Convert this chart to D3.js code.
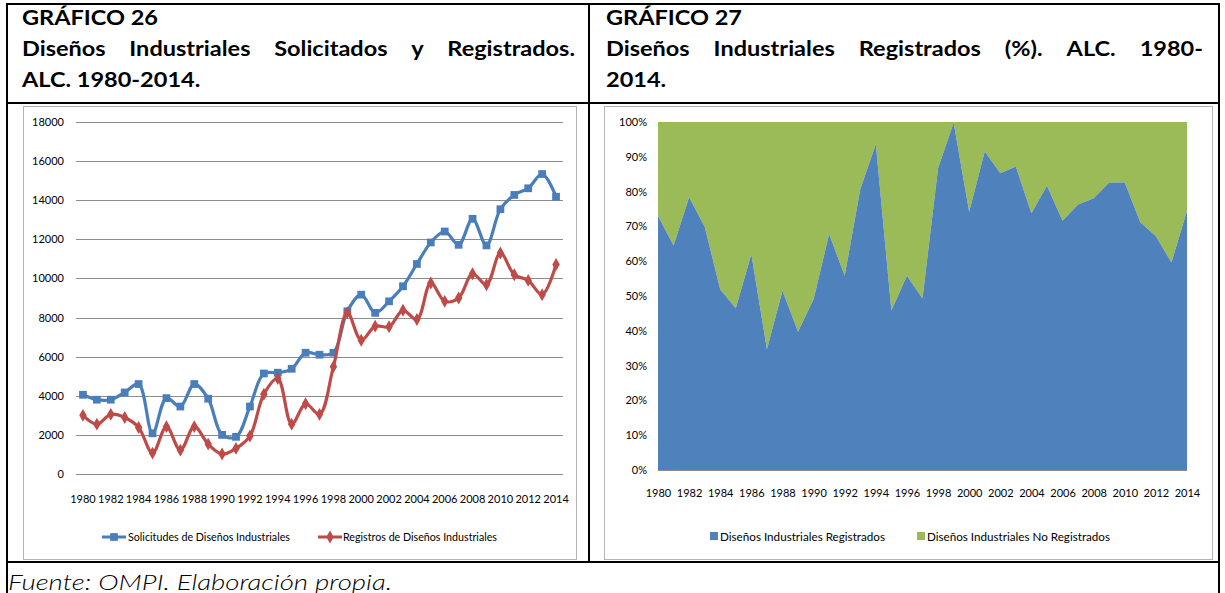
<!DOCTYPE html>
<html>
<head>
<meta charset="utf-8">
<script src="https://cdn.jsdelivr.net/npm/d3@7"></script>
<style>
  body { margin: 0; background: #fff; }
  svg { display: block; }
  text { font-family: Lato, "Open Sans", sans-serif; }
</style>
</head>
<body>
<svg id="page" width="1225" height="593"></svg>
<script>
// Categories and values
const years = [1980, 1981, 1982, 1983, 1984, 1985, 1986, 1987, 1988, 1989,
               1990, 1991, 1992, 1993, 1994, 1995, 1996, 1997, 1998, 1999,
               2000, 2001, 2002, 2003, 2004, 2005, 2006, 2007, 2008, 2009,
               2010, 2011, 2012, 2013, 2014];

const solicitudes = [4050, 3800, 3800, 4170, 4600, 2080, 3880, 3450, 4600, 3850,
                     2000, 1900, 3450, 5140, 5180, 5380, 6200, 6100, 6200, 8320,
                     9170, 8240, 8830, 9600, 10740, 11840, 12400, 11720, 13050, 11690,
                     13540, 14270, 14610, 15340, 14180];

const registros = [3000, 2550, 3050, 2890, 2380, 1070, 2420, 1220, 2420, 1530,
                   1020, 1310, 1940, 4080, 4880, 2550, 3590, 3050, 5490, 8250,
                   6840, 7560, 7530, 8370, 7900, 9770, 8830, 9000, 10240, 9680,
                   11300, 10190, 9900, 9170, 10710];

// share of registered designs (%), the rest is "No Registrados"
const pctRegistrados = [73.0, 64.5, 78.4, 69.9, 51.9, 46.5, 62.0, 34.7, 51.5, 39.7,
                        49.1, 67.8, 55.8, 80.7, 93.6, 45.8, 55.8, 49.3, 86.7, 99.8,
                        74.2, 91.5, 85.3, 87.2, 73.8, 81.7, 71.6, 76.3, 78.1, 82.6,
                        82.6, 71.2, 67.2, 59.6, 74.5];

const countTicks = [0, 2000, 4000, 6000, 8000, 10000, 12000, 14000, 16000, 18000];
const pctTicks = [0, 10, 20, 30, 40, 50, 60, 70, 80, 90, 100];
const yearLabels = [1980, 1982, 1984, 1986, 1988, 1990, 1992, 1994, 1996, 1998,
                    2000, 2002, 2004, 2006, 2008, 2010, 2012, 2014];

const seriesNames = ['Solicitudes de Diseños Industriales', 'Registros de Diseños Industriales'];
const areaNames = ['Diseños Industriales Registrados', 'Diseños Industriales No Registrados'];

const svg = d3.select('#page');

// ---------- table frame ----------
const frame = svg.append('g').attr('stroke', '#000').attr('stroke-width', 2);
frame.append('line').attr('x1', 6).attr('x2', 1220).attr('y1', 4).attr('y2', 4);
frame.append('line').attr('x1', 7).attr('x2', 7).attr('y1', 3).attr('y2', 593);
frame.append('line').attr('x1', 1219).attr('x2', 1219).attr('y1', 3).attr('y2', 593);
frame.append('line').attr('x1', 589).attr('x2', 589).attr('y1', 4).attr('y2', 562);
frame.append('line').attr('x1', 6).attr('x2', 1220).attr('y1', 103).attr('y2', 103);
frame.append('line').attr('x1', 6).attr('x2', 1220).attr('y1', 562).attr('y2', 562);

// ---------- titles (justified like the Word table) ----------
const titleFont = { size: 20, weight: 700 };

function measure(str) {
  const t = svg.append('text')
    .attr('font-size', titleFont.size)
    .attr('font-weight', titleFont.weight)
    .text(str);
  const w = t.node().getComputedTextLength();
  t.remove();
  return w;
}

// horizontal stretch so that "GRÁFICO 26" spans what it does in the picture
const sx = 136 / measure('GRÁFICO 26');
const spaceW = measure('a a') - measure('aa');

function titleLine(words, x0, y, x1) {
  const widths = words.map(w => measure(w) * sx);
  const total = d3.sum(widths);
  const gap = x1 ? (x1 - x0 - total) / (words.length - 1) : spaceW * sx;
  let x = x0;
  words.forEach((w, i) => {
    svg.append('text')
      .attr('x', x).attr('y', y)
      .attr('font-size', titleFont.size)
      .attr('font-weight', titleFont.weight)
      .attr('textLength', widths[i])
      .attr('lengthAdjust', 'spacingAndGlyphs')
      .attr('fill', '#000')
      .text(w);
    x += widths[i] + gap;
  });
}

titleLine(['GRÁFICO', '26'], 22, 25);
titleLine(['Diseños', 'Industriales', 'Solicitados', 'y', 'Registrados.'], 22, 56, 575);
titleLine(['ALC.', '1980-2014.'], 22, 86.5);

titleLine(['GRÁFICO', '27'], 606, 25);
titleLine(['Diseños', 'Industriales', 'Registrados', '(%).', 'ALC.', '1980-'], 606, 56, 1203);
titleLine(['2014.'], 606, 86.5);

// footer
svg.append('text')
  .attr('x', 8).attr('y', 590)
  .attr('font-size', 21)
  .attr('font-style', 'italic')
  .attr('font-weight', 300)
  .attr('textLength', 384)
  .attr('lengthAdjust', 'spacingAndGlyphs')
  .text('Fuente: OMPI. Elaboración propia.');

// ---------- chart boxes ----------
svg.append('rect').attr('x', 23.5).attr('y', 106.5).attr('width', 553).attr('height', 453)
  .attr('fill', '#fff').attr('stroke', '#b4b4b4');
svg.append('rect').attr('x', 604.5).attr('y', 106.5).attr('width', 608).attr('height', 453)
  .attr('fill', '#fff').attr('stroke', '#b4b4b4');

// ---------- GRÁFICO 26: line chart ----------
const x1 = d3.scaleBand().domain(years).range([76, 563]);
const y1 = d3.scaleLinear().domain([0, 18000]).range([474, 122]);
const cx = d => x1(d) + x1.bandwidth() / 2;

const g1 = svg.append('g');

g1.append('g')
  .selectAll('line')
  .data(countTicks)
  .join('line')
  .attr('x1', 76).attr('x2', 563)
  .attr('y1', d => Math.round(y1(d)) + 0.5)
  .attr('y2', d => Math.round(y1(d)) + 0.5)
  .attr('stroke', '#8c8c8c')
  .attr('stroke-width', 1);

const yAxis1 = g1.append('g')
  .attr('transform', 'translate(64,0)')
  .call(d3.axisLeft(y1).tickValues(countTicks).tickSize(0).tickPadding(0).tickFormat(d3.format('d')));
yAxis1.select('.domain').remove();
yAxis1.selectAll('text').attr('font-size', 11).attr('font-family', 'Lato, sans-serif').attr('fill', '#000');

const xAxis1 = g1.append('g')
  .attr('transform', 'translate(0,474)')
  .call(d3.axisBottom(x1).tickValues(yearLabels).tickSize(0).tickPadding(21));
xAxis1.select('.domain').remove();
xAxis1.selectAll('text').attr('font-size', 11).attr('font-family', 'Lato, sans-serif').attr('fill', '#000');

const series = [
  { name: seriesNames[0], values: solicitudes, color: '#4A7EBB', marker: d3.symbolSquare, msize: 60 },
  { name: seriesNames[1], values: registros, color: '#BE4B48', marker: d3.symbolDiamond, msize: 48 }
];

const line1 = d3.line()
  .x((d, i) => cx(years[i]))
  .y(d => y1(d))
  .curve(d3.curveCatmullRom.alpha(0.5));

series.forEach(s => {
  g1.append('path')
    .datum(s.values)
    .attr('d', line1)
    .attr('fill', 'none')
    .attr('stroke', s.color)
    .attr('stroke-width', 3.2)
    .attr('stroke-linejoin', 'round');
  g1.append('g')
    .selectAll('path')
    .data(s.values)
    .join('path')
    .attr('transform', (d, i) => `translate(${cx(years[i])},${y1(d)})`)
    .attr('d', d3.symbol().type(s.marker).size(s.msize))
    .attr('fill', s.color);
});

// legend
const legend1 = [
  { x: 102, textX: 128, len: 162 },
  { x: 318, textX: 343, len: 154 }
];
series.forEach((s, i) => {
  const L = legend1[i];
  const lg = g1.append('g');
  lg.append('line')
    .attr('x1', L.x).attr('x2', L.x + 24).attr('y1', 537).attr('y2', 537)
    .attr('stroke', s.color).attr('stroke-width', 3);
  lg.append('path')
    .attr('transform', `translate(${L.x + 12},537)`)
    .attr('d', d3.symbol().type(s.marker).size(s.msize))
    .attr('fill', s.color);
  lg.append('text')
    .attr('x', L.textX).attr('y', 541)
    .attr('font-size', 11)
    .attr('textLength', L.len)
    .attr('lengthAdjust', 'spacingAndGlyphs')
    .text(s.name);
});

// ---------- GRÁFICO 27: 100% stacked area ----------
const x2 = d3.scalePoint().domain(years).range([658, 1187]);
const y2 = d3.scaleLinear().domain([0, 100]).range([470, 122]);
const g2 = svg.append('g');

const areaReg = d3.area()
  .x((d, i) => x2(years[i]))
  .y0(y2(0))
  .y1(d => y2(d));
const areaNoReg = d3.area()
  .x((d, i) => x2(years[i]))
  .y0(d => y2(d))
  .y1(y2(100));

g2.append('path').datum(pctRegistrados).attr('d', areaNoReg).attr('fill', '#9BBB59');
g2.append('path').datum(pctRegistrados).attr('d', areaReg).attr('fill', '#4F81BD');

g2.append('line')
  .attr('x1', 658).attr('x2', 1187).attr('y1', 470.5).attr('y2', 470.5)
  .attr('stroke', '#8c8c8c');

const yAxis2 = g2.append('g')
  .attr('transform', 'translate(647,0)')
  .call(d3.axisLeft(y2).tickValues(pctTicks).tickSize(0).tickPadding(0).tickFormat(d => d + '%'));
yAxis2.select('.domain').remove();
yAxis2.selectAll('text').attr('font-size', 11).attr('font-family', 'Lato, sans-serif').attr('fill', '#000');

const xAxis2 = g2.append('g')
  .attr('transform', 'translate(0,470)')
  .call(d3.axisBottom(x2).tickValues(yearLabels).tickSize(0).tickPadding(19));
xAxis2.select('.domain').remove();
xAxis2.selectAll('text').attr('font-size', 11).attr('font-family', 'Lato, sans-serif').attr('fill', '#000');

const legend2 = [
  { x: 710, textX: 720, len: 165, color: '#4F81BD' },
  { x: 917, textX: 927, len: 183, color: '#9BBB59' }
];
legend2.forEach((L, i) => {
  g2.append('rect').attr('x', L.x).attr('y', 532).attr('width', 8).attr('height', 8).attr('fill', L.color);
  g2.append('text')
    .attr('x', L.textX).attr('y', 541)
    .attr('font-size', 11)
    .attr('textLength', L.len)
    .attr('lengthAdjust', 'spacingAndGlyphs')
    .text(areaNames[i]);
});
</script>
</body>
</html>
